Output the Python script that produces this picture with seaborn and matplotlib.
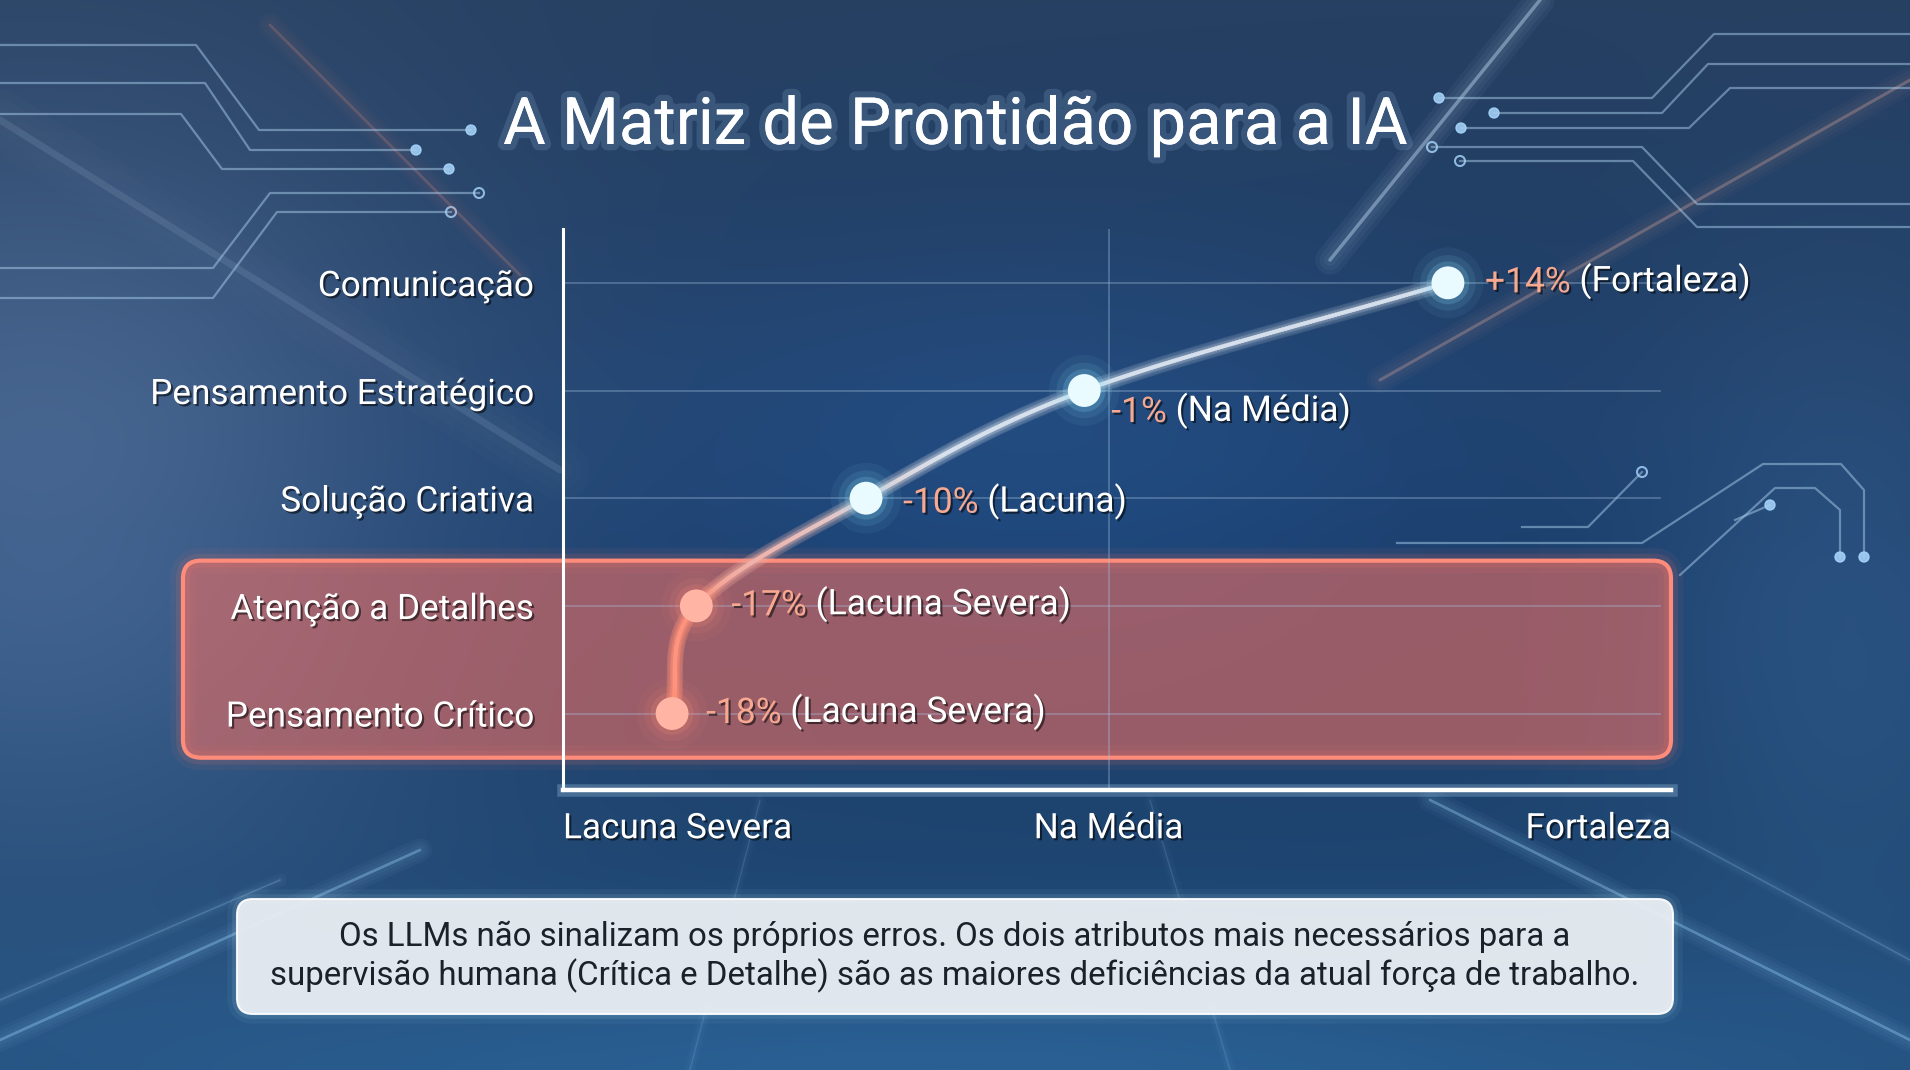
import numpy as np
import pandas as pd
import matplotlib
matplotlib.use("Agg")
import matplotlib.pyplot as plt
import seaborn as sns
import matplotlib.patheffects as pe
from matplotlib.patches import FancyBboxPatch, Circle
from matplotlib.collections import LineCollection
from matplotlib.colors import to_rgb
import matplotlib.transforms as mtransforms

# ---------------- data ----------------
categories = ["Comunicação", "Pensamento Estratégico", "Solução Criativa",
              "Atenção a Detalhes", "Pensamento Crítico"]
values = [14, -1, -10, -17, -18]
value_labels = ["+14%", "-1%", "-10%", "-17%", "-18%"]
status_labels = ["(Fortaleza)", "(Na Média)", "(Lacuna)", "(Lacuna Severa)", "(Lacuna Severa)"]
severity = ["ok", "ok", "ok", "severe", "severe"]
x_tick_labels = ["Lacuna Severa", "Na Média", "Fortaleza"]
title_text = "A Matriz de Prontidão para a IA"
footnote_text = ("Os LLMs não sinalizam os próprios erros. Os dois atributos mais necessários para a\n"
                 "supervisão humana (Crítica e Detalhe) são as maiores deficiências da atual força de trabalho.")

# ---------------- layout / style ----------------
X_MIN, X_MAX = -22.5, 23.2
label_offsets_px = [(37, 0), (27, -22), (37, -5), (35, 0), (34, 0)]
highlight_rows = (2.58, 4.41)

plt.rcParams["font.family"] = ["Roboto", "DejaVu Sans"]

W, H = 1910, 1070
fig = plt.figure(figsize=(W / 100, H / 100), dpi=100)

# ---------------- background ----------------
bg = fig.add_axes([0, 0, 1, 1], zorder=-10)
yy, xx = np.mgrid[0:1:H * 1j, 0:1:W * 1j]
top = np.array([38, 64, 98]) / 255
mid = np.array([26, 58, 100]) / 255
bot = np.array([32, 74, 118]) / 255
wy = yy[..., None]
img = np.where(wy < 0.5, top + (mid - top) * (wy / 0.5), mid + (bot - mid) * ((wy - 0.5) / 0.5))
left_glow = np.exp(-((xx - 0.02) / 0.22) ** 2) * np.exp(-((yy - 0.45) / 0.35) ** 2)
img = img + left_glow[..., None] * np.array([42, 42, 44]) / 255
win = np.exp(-((xx - 0.55) / 0.25) ** 2) * np.exp(-((yy - 0.42) / 0.2) ** 2)
img = img + win[..., None] * np.array([6, 16, 28]) / 255
right_dark = np.exp(-((xx - 0.97) / 0.12) ** 2) * np.exp(-((yy - 0.55) / 0.3) ** 2)
img = img + right_dark[..., None] * np.array([14, 20, 24]) / 255
floor = np.exp(-((yy - 1.0) / 0.12) ** 2) * np.exp(-((xx - 0.5) / 0.5) ** 2)
img = img + floor[..., None] * np.array([10, 22, 30]) / 255
img = np.clip(img, 0, 1)
bg.imshow(img, extent=(0, W, H, 0), aspect="auto", interpolation="bilinear")
bg.set_xlim(0, W)
bg.set_ylim(H, 0)
bg.axis("off")

def glow_line(axis, xs, ys, color, lw, alpha, layers=3):
    for k in range(layers, 0, -1):
        axis.plot(xs, ys, color=color, lw=lw * (1 + 2.5 * k), alpha=alpha * 0.12, solid_capstyle="round")
    axis.plot(xs, ys, color=color, lw=lw, alpha=alpha, solid_capstyle="round")

# light streaks
glow_line(bg, [0, 420], [1040, 850], "#9fd8ff", 2, 0.35)
glow_line(bg, [0, 280], [1000, 880], "#9fd8ff", 1.2, 0.22)
glow_line(bg, [1910, 1430], [1040, 800], "#9fd8ff", 2, 0.35)
glow_line(bg, [1910, 1650], [960, 820], "#9fd8ff", 1.2, 0.22)
glow_line(bg, [760, 690], [800, 1070], "#9fd8ff", 1.0, 0.15)
glow_line(bg, [1150, 1230], [800, 1070], "#9fd8ff", 1.0, 0.15)
glow_line(bg, [1540, 1330], [0, 260], "#cfe8ff", 2.5, 0.4)
glow_line(bg, [1910, 1380], [80, 380], "#e8b0a0", 2.2, 0.3)
glow_line(bg, [270, 520], [25, 275], "#e89080", 2, 0.22)
glow_line(bg, [0, 560], [120, 470], "#b8d0e8", 5, 0.13)

# circuit traces
left_traces = [
    ([0, 196, 259, 471], [45, 45, 130, 130], "dot"),
    ([0, 205, 250, 416], [83, 83, 150, 150], "dot"),
    ([0, 181, 222, 449], [114, 114, 169, 169], "dot"),
    ([0, 213, 270, 479], [268, 268, 193, 193], "ring"),
    ([0, 213, 277, 451], [298, 298, 212, 212], "ring"),
]
right_traces = [
    ([1910, 1714, 1652, 1439], [34, 34, 98, 98], "dot"),
    ([1910, 1708, 1662, 1494], [64, 64, 113, 113], "dot"),
    ([1910, 1730, 1689, 1461], [88, 88, 128, 128], "dot"),
    ([1910, 1697, 1642, 1432], [204, 204, 147, 147], "ring"),
    ([1910, 1697, 1633, 1460], [227, 227, 161, 161], "ring"),
    ([1522, 1588, 1642], [527, 527, 472], "ring"),
    ([1397, 1642, 1763, 1841, 1864, 1864], [543, 543, 464, 464, 490, 557], "dot"),
    ([1680, 1775, 1815, 1840, 1840], [575, 488, 488, 510, 557], "dot"),
    ([1735, 1770], [520, 505], "dot"),
]
for xs, ys, end in left_traces + right_traces:
    bg.plot(xs, ys, color="#a9cdea", lw=1.6, alpha=0.5)
    if end == "dot":
        bg.add_patch(Circle((xs[-1], ys[-1]), 5, color="#a9d8ff", alpha=0.85))
    else:
        bg.add_patch(Circle((xs[-1], ys[-1]), 5, fill=False, ec="#a9d8ff", lw=1.5, alpha=0.8))

# ---------------- main axes ----------------
ax = fig.add_axes([563 / W, 1 - 790 / H, (1671 - 563) / W, (790 - 229) / H])
ax.set_facecolor("none")

df = pd.DataFrame({"categoria": categories, "valor": values, "grupo": severity})
palette = {"ok": "#e9fbff", "severe": "#ffb4a4"}
glow_palette = {"ok": "#8fe6ff", "severe": "#ff8a74"}

ax.set_xlim(X_MIN, X_MAX)

# grid
for i in range(len(categories)):
    ax.axhline(i, xmin=0, xmax=0.99, color="#a7c3e0", lw=1.3, alpha=0.35, zorder=1)
ax.axvline(0, color="#a7c3e0", lw=1.3, alpha=0.35, zorder=1)

# smooth connecting curve (Catmull-Rom cubic through the points)
t = np.arange(len(values), dtype=float)
xv = np.array(values, dtype=float)
h = np.diff(t)
m = np.zeros_like(xv)
m[0] = xv[1] - xv[0]
m[-1] = xv[-1] - xv[-2]
m[1:-1] = (xv[2:] - xv[:-2]) / 2
tt = np.linspace(t[0], t[-1], 500)
idx = np.clip(np.searchsorted(t, tt) - 1, 0, len(t) - 2)
s = (tt - t[idx]) / h[idx]
h00, h10, h01, h11 = 2 * s**3 - 3 * s**2 + 1, s**3 - 2 * s**2 + s, -2 * s**3 + 3 * s**2, s**3 - s**2
xc = h00 * xv[idx] + h10 * h[idx] * m[idx] + h01 * xv[idx + 1] + h11 * h[idx] * m[idx + 1]
pts = np.column_stack([xc, tt]).reshape(-1, 1, 2)
segs = np.concatenate([pts[:-1], pts[1:]], axis=1)
c_top, c_bot = np.array(to_rgb("#d8e2ee")), np.array(to_rgb("#ff9580"))
frac = np.clip((tt[:-1] - 1.6) / (3.2 - 1.6), 0, 1)[:, None]
cols = c_top * (1 - frac) + c_bot * frac
for lw_, a_ in [(12, 0.05), (7, 0.08)]:
    ax.add_collection(LineCollection(segs, colors=cols, linewidths=lw_, alpha=a_, zorder=3,
                                     capstyle="round"))
ax.add_collection(LineCollection(segs, colors=cols, linewidths=3.0, alpha=0.85, zorder=3,
                                 capstyle="round"))

# point glow + points
for sz, al in [(2600, 0.06), (1600, 0.10), (950, 0.18)]:
    ax.scatter(df["valor"], np.arange(len(df)), s=sz, c=[glow_palette[g] for g in df["grupo"]],
               alpha=al, edgecolors="none", zorder=4)
sns.scatterplot(data=df, x="valor", y="categoria", hue="grupo", palette=palette, s=560,
                edgecolor="none", legend=False, ax=ax, zorder=5)

ax.set_ylim(4.71, -0.5)
ax.set_xlim(X_MIN, X_MAX)

shadow = [pe.withSimplePatchShadow(offset=(1.5, -1.5), shadow_rgbFace="black", alpha=0.55)]

# value annotations
for i, (v, pl, st) in enumerate(zip(values, value_labels, status_labels)):
    dx, dy = label_offsets_px[i]
    t1 = ax.annotate(pl, xy=(v, i), xytext=(dx * 0.72, dy * 0.72), textcoords="offset points",
                     ha="left", va="center", fontsize=25.5, color="#f7a890", zorder=6,
                     path_effects=shadow)
    ax.annotate(" " + st, xy=(1, 0), xycoords=t1, ha="left", va="bottom", fontsize=25.5,
                color="white", zorder=6, path_effects=shadow)

# axes styling
for sp in ["top", "right"]:
    ax.spines[sp].set_visible(False)
ax.spines["left"].set_color("white")
ax.spines["left"].set_linewidth(2.2)
ax.spines["bottom"].set_color("white")
ax.spines["bottom"].set_linewidth(3.2)
ax.spines["bottom"].set_path_effects([pe.Stroke(linewidth=9, foreground="#bfe6ff", alpha=0.25), pe.Normal()])
ax.set_xlabel("")
ax.set_ylabel("")
ax.set_yticks(range(len(categories)))
ax.set_yticklabels(categories, fontsize=25.3, color="white")
ax.set_xticks([X_MIN, 0, X_MAX])
ax.set_xticklabels(x_tick_labels, fontsize=25.3, color="white")
xt = ax.get_xticklabels()
xt[0].set_ha("left")
xt[-1].set_ha("right")
ax.tick_params(axis="y", length=0, pad=21)
ax.tick_params(axis="x", length=0, pad=16)
for lab in ax.get_yticklabels() + ax.get_xticklabels():
    lab.set_path_effects(shadow)

# highlight box for severe rows (behind the axes content)
fig.canvas.draw()
x0_px = ax.transAxes.transform((-0.343, 0))[0]
x1_px = ax.transAxes.transform((1.0, 0))[0]
y_top_px = ax.transData.transform((0, highlight_rows[0]))[1]
y_bot_px = ax.transData.transform((0, highlight_rows[1]))[1]
ident = mtransforms.IdentityTransform()
for lw_, a_ in [(18, 0.06), (10, 0.12)]:
    fig.patches.append(FancyBboxPatch((x0_px, y_bot_px), x1_px - x0_px, y_top_px - y_bot_px,
                                      boxstyle="round,pad=0,rounding_size=18", transform=ident,
                                      fc="none", ec="#ff7a66", lw=lw_, alpha=a_, zorder=-5, figure=fig))
fig.patches.append(FancyBboxPatch((x0_px, y_bot_px), x1_px - x0_px, y_top_px - y_bot_px,
                                  boxstyle="round,pad=0,rounding_size=18", transform=ident,
                                  fc=(1.0, 0.45, 0.39, 0.55), ec="#ff8c7a", lw=3, zorder=-5, figure=fig))

# title
fig.text(0.5, 1 - 144 / H, title_text, ha="center", va="baseline", fontsize=47, color="white",
         path_effects=[pe.withStroke(linewidth=9, foreground=(0.7, 0.85, 1.0, 0.15))])

# footnote box
bx0, bx1, by0, by1 = 237, 1673, 899, 1014
for lw_, a_ in [(14, 0.05), (7, 0.1)]:
    fig.patches.append(FancyBboxPatch((bx0, H - by1), bx1 - bx0, by1 - by0,
                                      boxstyle="round,pad=0,rounding_size=16", transform=ident,
                                      fc="none", ec="#bff6ff", lw=lw_, alpha=a_, zorder=-5, figure=fig))
fig.patches.append(FancyBboxPatch((bx0, H - by1), bx1 - bx0, by1 - by0,
                                  boxstyle="round,pad=0,rounding_size=16", transform=ident,
                                  fc=(0.91, 0.93, 0.95, 0.96), ec=(1, 1, 1, 0.9), lw=1.5,
                                  zorder=-5, figure=fig))
fig.text(955 / W, 1 - 957 / H, footnote_text, ha="center", va="center", fontsize=23.8,
         color="#1b2029", linespacing=1.2, zorder=5)

fig.savefig("out.png", dpi=100)
